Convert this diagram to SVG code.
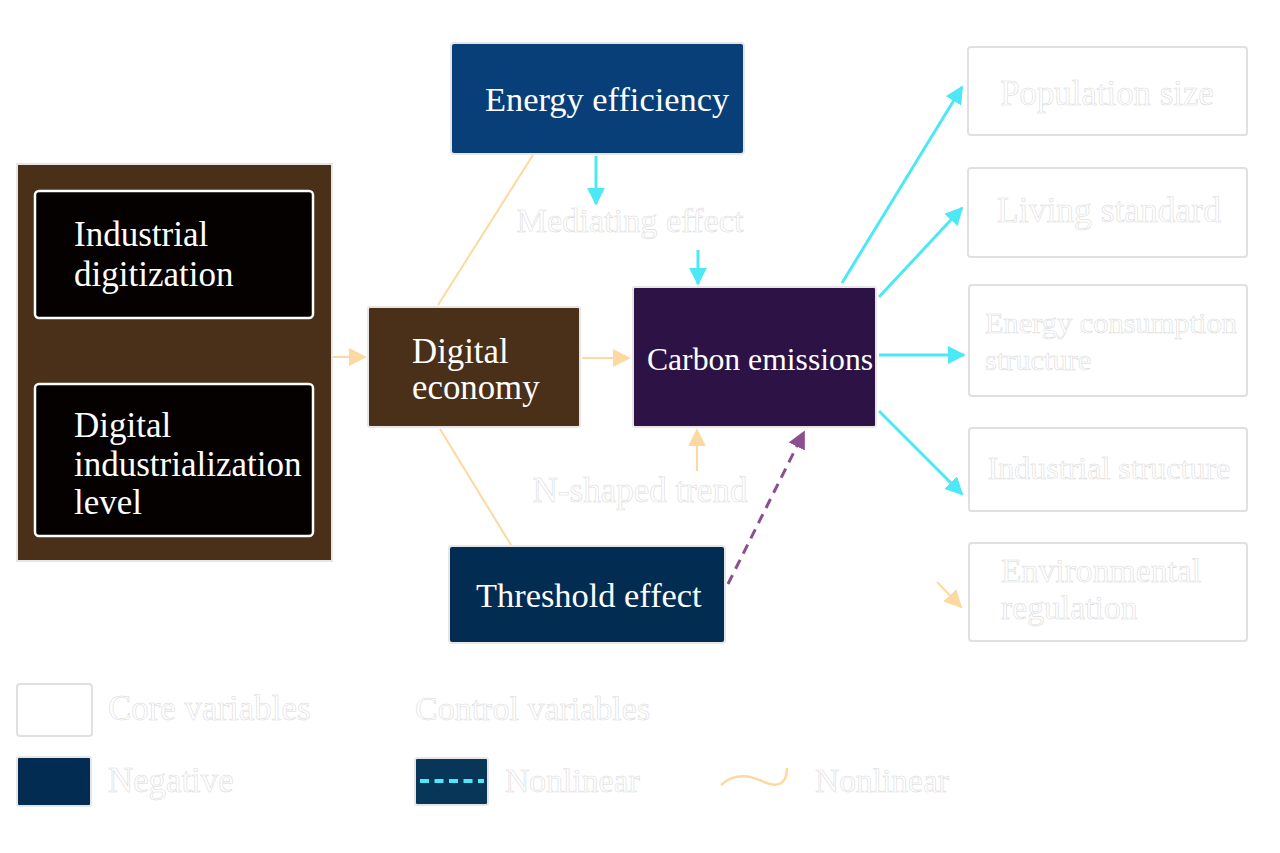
<svg xmlns="http://www.w3.org/2000/svg" width="1280" height="853" viewBox="0 0 1280 853">
<style>
text{font-family:"Liberation Serif","DejaVu Serif",serif}
.w{fill:#ffffff}
.g{fill:#ffffff;stroke:#d9d9d9;stroke-width:0.55}
.box{stroke:#e6e6e6;stroke-width:2}
.ctl{fill:#ffffff;stroke:#e0e0e0;stroke-width:2}
.cy{stroke:#4de8f5;stroke-width:3;fill:none}
.or{stroke:#fcd9a0;stroke-width:2;fill:none}
</style>
<defs>
<marker id="ac" viewBox="0 0 10 10" refX="9" refY="5" markerWidth="6" markerHeight="6" markerUnits="strokeWidth" orient="auto"><path d="M0,0L10,5L0,10z" fill="#4de8f5"/></marker>
<marker id="ao" viewBox="0 0 10 10" refX="9" refY="5" markerWidth="9" markerHeight="9" markerUnits="strokeWidth" orient="auto"><path d="M0,0L10,5L0,10z" fill="#fcd9a0"/></marker>
<marker id="ap" viewBox="0 0 10 10" refX="9" refY="5" markerWidth="6" markerHeight="6" markerUnits="strokeWidth" orient="auto"><path d="M0,0L10,5L0,10z" fill="#8a4f8f"/></marker>
</defs>
<rect width="1280" height="853" fill="#ffffff"/>

<g id="connectors">
<line x1="333" y1="357" x2="365" y2="357" class="or" marker-end="url(#ao)"/>
<line x1="582" y1="358" x2="629" y2="358" class="or" marker-end="url(#ao)"/>
<line x1="438" y1="305" x2="533" y2="155" class="or"/>
<line x1="440" y1="429" x2="511" y2="545" class="or"/>
<line x1="596" y1="156" x2="596" y2="204" class="cy" marker-end="url(#ac)"/>
<line x1="698" y1="250" x2="698" y2="284" class="cy" marker-end="url(#ac)"/>
<line x1="697" y1="471" x2="697" y2="430" class="or" marker-end="url(#ao)"/>
<line x1="728" y1="584" x2="804" y2="432" stroke="#8a4f8f" stroke-width="3" stroke-dasharray="10,7" fill="none" marker-end="url(#ap)"/>
<line x1="842" y1="283" x2="962" y2="87" class="cy" marker-end="url(#ac)"/>
<line x1="879" y1="297" x2="962" y2="208" class="cy" marker-end="url(#ac)"/>
<line x1="879" y1="355" x2="964" y2="355" class="cy" marker-end="url(#ac)"/>
<line x1="879" y1="411" x2="962" y2="494" class="cy" marker-end="url(#ac)"/>
<line x1="937" y1="582" x2="961" y2="607" class="or" marker-end="url(#ao)"/>
</g>

<g id="digital-economy-group">
<rect x="17" y="164" width="315" height="397" fill="#4a3018" class="box"/>
</g>
<g id="industrial-digitization">
<rect x="35" y="191" width="278" height="127" rx="4" fill="#050101" stroke="#ffffff" stroke-width="2.5"/>
<text class="w" x="74" y="246" style="font-size:35px">Industrial</text>
<text class="w" x="74" y="286" style="font-size:35px">digitization</text>
</g>
<g id="digital-industrialization-level">
<rect x="35" y="384" width="278" height="152" rx="4" fill="#050101" stroke="#ffffff" stroke-width="2.5"/>
<text class="w" x="74" y="437" style="font-size:35px">Digital</text>
<text class="w" x="74" y="476" style="font-size:35px">industrialization</text>
<text class="w" x="74" y="514" style="font-size:35px">level</text>
</g>
<g id="digital-economy">
<rect x="368" y="307" width="212" height="120" rx="2" fill="#4a3018" class="box"/>
<text class="w" x="412" y="363" style="font-size:34.8px">Digital</text>
<text class="w" x="412" y="399" style="font-size:34.8px">economy</text>
</g>
<g id="carbon-emissions">
<rect x="633" y="287" width="243" height="140" rx="2" fill="#2d1245" class="box"/>
<text class="w" x="760" y="370" text-anchor="middle" style="font-size:31.7px">Carbon emissions</text>
</g>
<g id="energy-efficiency">
<rect x="451" y="43" width="293" height="111" rx="3" fill="#083f78" class="box"/>
<text class="w" x="485" y="111" style="font-size:34.4px">Energy efficiency</text>
</g>
<g id="threshold-effect">
<rect x="449" y="546" width="276" height="97" rx="3" fill="#032c52" class="box"/>
<text class="w" x="476" y="607" style="font-size:34.4px">Threshold effect</text>
</g>
<g id="mediating-effect">
<text class="g" x="630" y="232" text-anchor="middle" style="font-size:34.3px">Mediating effect</text>
</g>
<g id="n-shaped-trend">
<text class="g" x="640" y="502" text-anchor="middle" style="font-size:35px">N-shaped trend</text>
</g>

<g id="population-size">
<rect x="968" y="47" width="279" height="88" rx="3" class="ctl"/>
<text class="g" x="1107" y="105" text-anchor="middle" style="font-size:34.8px">Population size</text>
</g>
<g id="living-standard">
<rect x="968" y="168" width="279" height="89" rx="3" class="ctl"/>
<text class="g" x="1109" y="222" text-anchor="middle" style="font-size:35.5px">Living standard</text>
</g>
<g id="energy-consumption-structure">
<rect x="969" y="285" width="278" height="111" rx="3" class="ctl"/>
<text class="g" x="985" y="333" style="font-size:30.4px">Energy consumption</text>
<text class="g" x="985" y="370" style="font-size:30.4px">structure</text>
</g>
<g id="industrial-structure">
<rect x="969" y="428" width="278" height="83" rx="3" class="ctl"/>
<text class="g" x="1109" y="479" text-anchor="middle" style="font-size:32px">Industrial structure</text>
</g>
<g id="environmental-regulation">
<rect x="969" y="543" width="278" height="98" rx="3" class="ctl"/>
<text class="g" x="1001" y="582" style="font-size:33.7px">Environmental</text>
<text class="g" x="1001" y="619" style="font-size:33.7px">regulation</text>
</g>

<g id="legend">
<rect x="17" y="684" width="75" height="52" rx="3" class="ctl"/>
<text class="g" x="108" y="720" style="font-size:34.9px">Core variables</text>
<text class="g" x="415" y="720" style="font-size:34px">Control variables</text>
<rect x="17" y="757" width="74" height="49" rx="2" fill="#032c52" stroke="#e6e6e6" stroke-width="2"/>
<text class="g" x="108" y="792" style="font-size:34.8px">Negative</text>
<rect x="415" y="758" width="73" height="47" rx="2" fill="#083658" stroke="#e6e6e6" stroke-width="2"/>
<line x1="420" y1="781" x2="484" y2="781" stroke="#4de8f5" stroke-width="4" stroke-dasharray="9,5.5"/>
<text class="g" x="505" y="792" style="font-size:33.7px">Nonlinear</text>
<path d="M721,785 C735,772 752,776 764,782 C778,788 787,784 787,768" stroke="#fcd9a0" stroke-width="2.5" fill="none"/>
<text class="g" x="815" y="792" style="font-size:33.5px">Nonlinear</text>
</g>
</svg>
